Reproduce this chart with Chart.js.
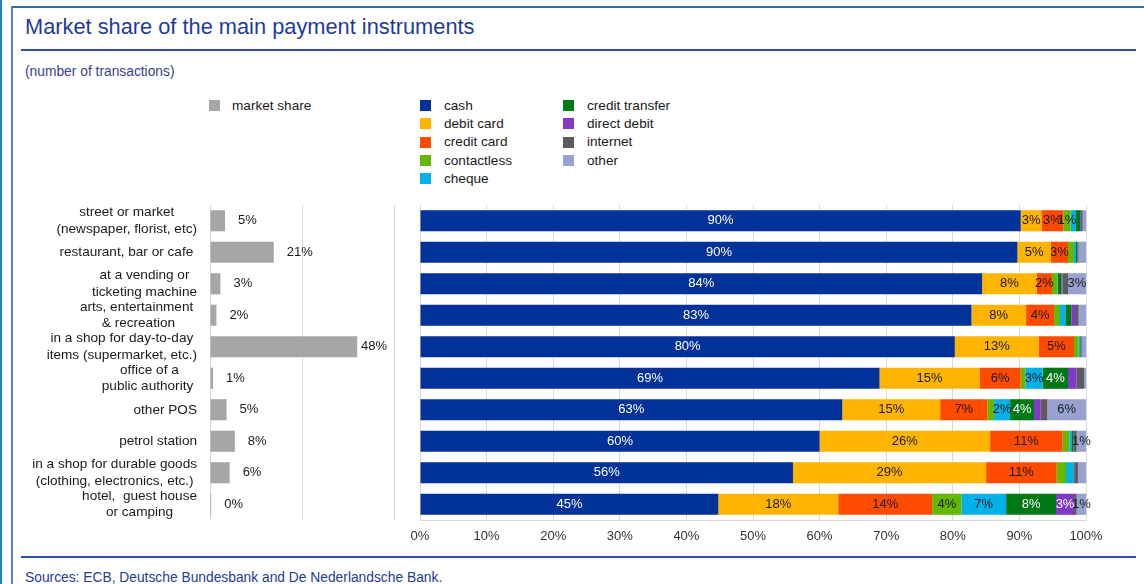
<!DOCTYPE html>
<html>
<head>
<meta charset="utf-8">
<title>Market share of the main payment instruments</title>
<script src="https://cdn.jsdelivr.net/npm/chart.js@4.4.1/dist/chart.umd.min.js"></script>
<style>
    html, body { margin: 0; padding: 0; background: #fff; }
    body { width: 1144px; height: 584px; position: relative; overflow: hidden; font-family: "Liberation Sans", Arial, sans-serif; }
    .line { position: absolute; }
    .txt { position: absolute; white-space: nowrap; line-height: 1; }
    #title { left: 25px; top: 16px; font-size: 21.8px; color: #1f3c96; }
    #subtitle { left: 25px; top: 64.5px; font-size: 13.8px; color: #3a3d8f; }
    #sources { left: 25px; top: 571px; font-size: 13.8px; color: #1f3c96; }
    .leg-box { position: absolute; width: 11px; height: 11px; }
    .leg-txt { position: absolute; font-size: 13.6px; line-height: 1; color: #1a1a1a; white-space: nowrap; }
    canvas { position: absolute; left: 0; top: 0; }
</style>
</head>
<body>
<div class="line" style="left:0;top:0;width:2px;height:584px;background:#1b84c9"></div>
<div class="line" style="left:11px;top:6px;width:2px;height:578px;background:#5d8aa6"></div>
<div class="line" style="left:12px;top:6px;width:1132px;height:2px;background:#2f6f91"></div>
<div class="line" style="left:21px;top:49px;width:1115px;height:2px;background:#2a4fb0"></div>
<div class="line" style="left:21px;top:556px;width:1115px;height:2px;background:#2a4fb0"></div>

<div class="txt" id="title">Market share of the main payment instruments</div>
<div class="txt" id="subtitle">(number of transactions)</div>
<div class="txt" id="sources">Sources: ECB, Deutsche Bundesbank and De Nederlandsche Bank.</div>

<div id="legend"></div>

<canvas id="chartShare" width="1144" height="584"></canvas>
<canvas id="chartInstr" width="1144" height="584"></canvas>

<script>
// places of payment, top to bottom
const categories = [
    ['street or market', '(newspaper, florist, etc)'],
    ['restaurant, bar or cafe '],
    ['at a vending or', 'ticketing machine'],
    ['arts, entertainment ', '& recreation'],
    ['in a shop for day-to-day', 'items (supermarket, etc.)'],
    ['office of a', 'public authority '],
    ['other POS'],
    ['petrol station'],
    ['in a shop for durable goods', '(clothing, electronics, etc.)'],
    ['hotel,  guest house', 'or camping']
];

// share of all transactions per place (%)
const marketShare = [4.9, 20.8, 3.4, 2.1, 48.0, 1.0, 5.4, 8.1, 6.4, 0.4];

// split by instrument (%), same order as categories
const cash           = [90.2, 89.7, 84.4, 82.8, 80.3, 69.0, 63.4, 60.0, 56.0, 44.8];
const debitCard      = [3.1, 5.0, 8.2, 8.2, 12.6, 15.0, 14.7, 25.6, 29.0, 18.0];
const creditCard     = [3.3, 2.6, 2.3, 4.2, 5.3, 6.2, 7.1, 10.9, 10.6, 14.1];
const contactless    = [1.1, 0.9, 0.8, 0.9, 0.7, 0.7, 1.0, 1.0, 1.4, 4.4];
const cheque         = [0.8, 0.3, 0.1, 0.8, 0.2, 2.6, 2.4, 0.4, 1.1, 6.7];
const creditTransfer = [0.7, 0.2, 0.5, 0.9, 0.1, 3.8, 3.6, 0.2, 0.2, 7.5];
const directDebit    = [0.2, 0.1, 0.2, 0.7, 0.1, 1.3, 1.0, 0.1, 0.2, 2.7];
const internet       = [0.1, 0.1, 0.8, 0.4, 0.1, 1.1, 1.0, 0.4, 0.3, 0.4];
const other          = [0.5, 1.1, 2.7, 1.1, 0.6, 0.3, 5.8, 1.4, 1.2, 1.4];

const instruments = ['cash', 'debit card', 'credit card', 'contactless', 'cheque',
                     'credit transfer', 'direct debit', 'internet', 'other'];
const instrumentSeries = [cash, debitCard, creditCard, contactless, cheque,
                          creditTransfer, directDebit, internet, other];

// rows whose segment carries a value label
const all = [0, 1, 2, 3, 4, 5, 6, 7, 8, 9];
const labelledRows = [all, all, all, [0, 9], [5, 6, 9], [5, 6, 9], [9], [], [2, 6, 7, 9]];

const COLORS = ['#003299', '#ffb400', '#ff4b00', '#65b800', '#00b1ea',
                '#007816', '#8139c6', '#5c5c5c', '#98a1d0'];
const LABEL_COLORS = ['#ffffff', '#1a1a1a', '#1a1a1a', '#1a1a1a', '#1a1a1a',
                      '#ffffff', '#ffffff', '#1a1a1a', '#1a1a1a'];
const SHARE_COLOR = '#a6a6a6';
const GRID = '#d9d9d9';
const FONT = '"Liberation Sans", Arial, sans-serif';

window.PaymentChart = {
    chartShare: null,
    chartInstr: null,

    init: function() {
        this.desenharLegenda();
        this.desenharShare();
        this.desenharInstrumentos();
    },

    desenharLegenda: function() {
        const box = document.getElementById('legend');
        let html = `
            <div class="leg-box" style="left:209px;top:100px;background:${SHARE_COLOR}"></div>
            <div class="leg-txt" style="left:232px;top:98.6px">market share</div>`;

        instruments.forEach((nome, i) => {
            const col = i < 5 ? 0 : 1;
            const row = i < 5 ? i : i - 5;
            const x = col === 0 ? 420 : 563;
            const base = 110 + row * 18.33;
            html += `
                <div class="leg-box" style="left:${x}px;top:${(base - 10).toFixed(1)}px;background:${COLORS[i]}"></div>
                <div class="leg-txt" style="left:${x + 24}px;top:${(base - 11.5).toFixed(1)}px">${nome}</div>`;
        });
        box.innerHTML = html;
    },

    desenharShare: function() {
        // category names, lines centred on each other, block right-aligned
        const categoryLabels = {
            id: 'categoryLabels',
            afterDraw(chart) {
                const ctx = chart.ctx;
                const yScale = chart.scales.y;
                ctx.save();
                ctx.font = '13.6px ' + FONT;
                ctx.fillStyle = '#1a1a1a';
                ctx.textAlign = 'center';
                ctx.textBaseline = 'middle';
                categories.forEach((lines, i) => {
                    const maxW = Math.max(...lines.map(l => ctx.measureText(l).width));
                    const cx = 197 - maxW / 2;
                    const cy = yScale.getPixelForValue(i);
                    const step = 16.5;
                    lines.forEach((l, k) => {
                        ctx.fillText(l, cx, cy + (k - (lines.length - 1) / 2) * step);
                    });
                });

                // value next to each bar
                const meta = chart.getDatasetMeta(0);
                ctx.textAlign = 'left';
                ctx.font = '13px ' + FONT;
                meta.data.forEach((el, i) => {
                    const txt = Math.round(marketShare[i]) + '%';
                    const w = ctx.measureText(txt).width;
                    const x = Math.min(el.x + 13, 387 - w);
                    ctx.fillText(txt, x, el.y);
                });
                ctx.restore();
            }
        };

        this.chartShare = new Chart(document.getElementById('chartShare'), {
            type: 'bar',
            data: {
                labels: categories,
                datasets: [{
                    label: 'market share',
                    data: marketShare,
                    backgroundColor: SHARE_COLOR,
                    barPercentage: 0.67,
                    categoryPercentage: 1
                }]
            },
            options: {
                indexAxis: 'y',
                responsive: false,
                animation: false,
                layout: { padding: { left: 210, right: 750, top: 205, bottom: 64 } },
                plugins: { legend: { display: false }, tooltip: { enabled: false } },
                scales: {
                    x: {
                        min: 0, max: 60,
                        ticks: { display: false, stepSize: 30 },
                        grid: { color: GRID, drawTicks: false },
                        border: { display: false },
                        afterFit: s => { s.height = 0; }
                    },
                    y: { display: false }
                }
            },
            plugins: [categoryLabels]
        });
    },

    desenharInstrumentos: function() {
        const segmentLabels = {
            id: 'segmentLabels',
            afterDatasetsDraw(chart) {
                const ctx = chart.ctx;
                ctx.save();
                ctx.font = '13px ' + FONT;
                ctx.textAlign = 'center';
                ctx.textBaseline = 'middle';
                instrumentSeries.forEach((serie, d) => {
                    const meta = chart.getDatasetMeta(d);
                    ctx.fillStyle = LABEL_COLORS[d];
                    labelledRows[d].forEach(i => {
                        const el = meta.data[i];
                        ctx.fillText(Math.round(serie[i]) + '%', (el.x + el.base) / 2, el.y);
                    });
                });
                ctx.restore();
            }
        };

        this.chartInstr = new Chart(document.getElementById('chartInstr'), {
            type: 'bar',
            data: {
                labels: categories,
                datasets: instrumentSeries.map((serie, d) => ({
                    label: instruments[d],
                    data: serie,
                    backgroundColor: COLORS[d],
                    barPercentage: 0.67,
                    categoryPercentage: 1
                }))
            },
            options: {
                indexAxis: 'y',
                responsive: false,
                animation: false,
                layout: { padding: { left: 420, right: 58, top: 205, bottom: 24 } },
                plugins: { legend: { display: false }, tooltip: { enabled: false } },
                scales: {
                    x: {
                        stacked: true,
                        min: 0, max: 100,
                        ticks: {
                            stepSize: 10,
                            padding: 9,
                            color: '#333',
                            font: { family: FONT, size: 13 },
                            callback: v => v + '%'
                        },
                        grid: { color: GRID, drawTicks: false },
                        border: { display: true, color: GRID },
                        afterFit: s => { s.height = 40; }
                    },
                    y: { stacked: true, display: false }
                }
            },
            plugins: [segmentLabels]
        });
    }
};

PaymentChart.init();
</script>
</body>
</html>
